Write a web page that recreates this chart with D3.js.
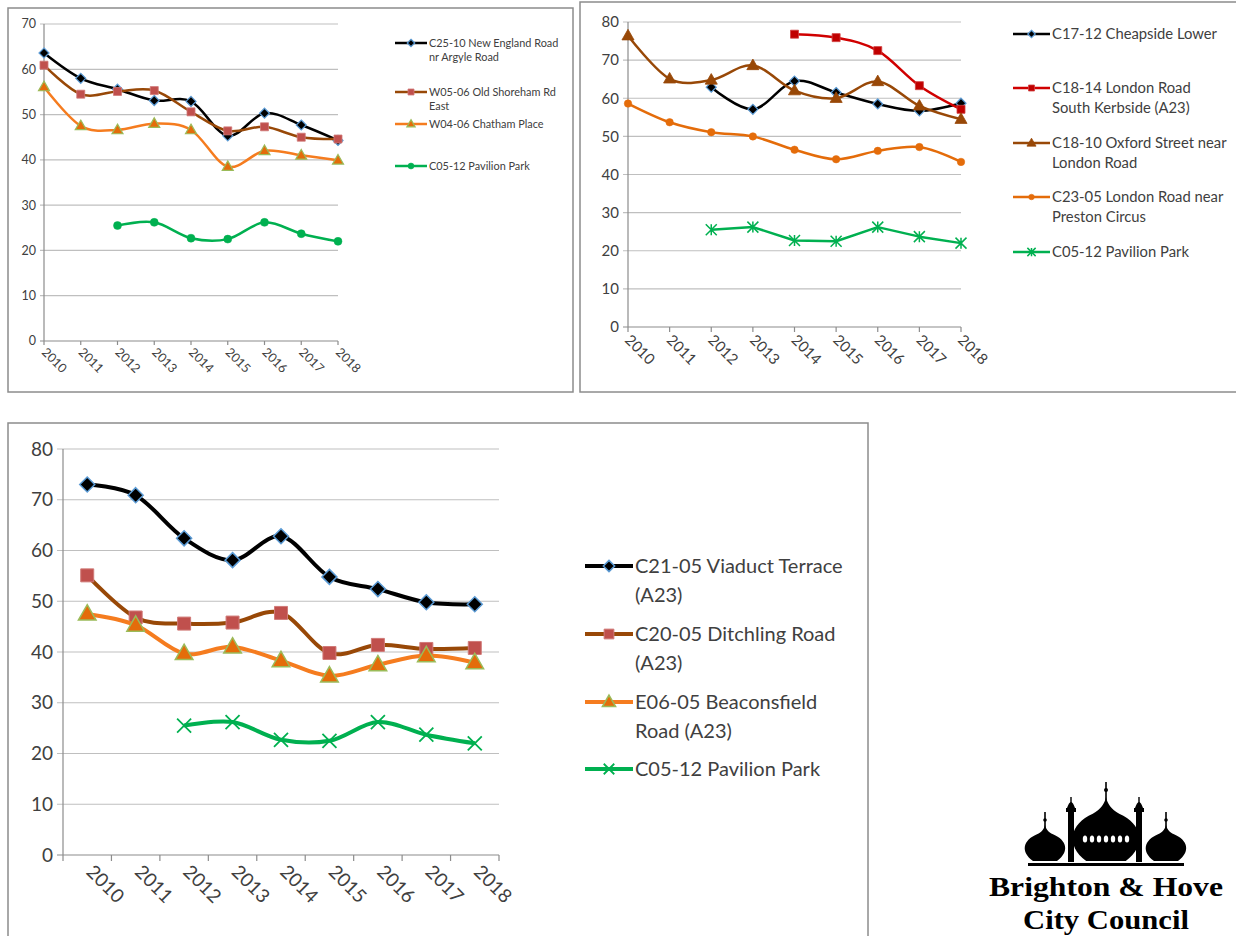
<!DOCTYPE html>
<html>
<head>
<meta charset="utf-8">
<script src="https://cdn.jsdelivr.net/npm/d3@7"></script>
<style>
  body { margin:0; background:#fff; }
  text { font-family: Lato, "Open Sans", sans-serif; }
</style>
</head>
<body>
<svg id="Vis" width="1236" height="936"></svg>
<script>
// ---- data ----
var years = ["2010","2011","2012","2013","2014","2015","2016","2017","2018"];

var pavilionPark   = [null, null, 25.5, 26.2, 22.7, 22.5, 26.2, 23.7, 22.0];

var newEngland     = [63.6, 58.0, 55.6, 53.1, 52.9, 45.3, 50.3, 47.7, 44.3];
var oldShoreham    = [60.9, 54.5, 55.1, 55.3, 50.6, 46.4, 47.3, 45.0, 44.6];
var chathamPlace   = [56.1, 47.5, 46.6, 48.0, 46.6, 38.5, 42.0, 41.0, 39.9];

var cheapside      = [null, null, 62.9, 57.1, 64.5, 61.5, 58.5, 56.7, 58.7];
var londonSouth    = [null, null, null, null, 76.8, 75.9, 72.5, 63.3, 57.1];
var oxfordStreet   = [76.4, 65.1, 64.8, 68.6, 62.0, 60.0, 64.4, 58.0, 54.5];
var prestonCircus  = [58.6, 53.7, 51.1, 50.0, 46.5, 44.0, 46.2, 47.2, 43.3];

var viaduct        = [73.0, 70.9, 62.4, 58.1, 62.8, 54.8, 52.4, 49.8, 49.4];
var ditchling      = [55.1, 46.8, 45.6, 45.8, 47.7, 39.8, 41.4, 40.6, 40.8];
var beaconsfield   = [47.5, 45.3, 39.7, 41.0, 38.3, 35.3, 37.5, 39.3, 37.9];

var ticks70 = [0,10,20,30,40,50,60,70];
var ticks80 = [0,10,20,30,40,50,60,70,80];

var svg = d3.select("#Vis");

function drawMarker(g, type, s, fill, stroke, sw){
  var p;
  if(type=="diamond")  p = "M0,"+(-s/2)+"L"+(s/2)+",0L0,"+(s/2)+"L"+(-s/2)+",0Z";
  if(type=="square")   p = "M"+(-s/2)+","+(-s/2)+"h"+s+"v"+s+"h"+(-s)+"Z";
  if(type=="triangle") p = "M0,"+(-0.58*s)+"L"+(0.55*s)+","+(0.38*s)+"L"+(-0.55*s)+","+(0.38*s)+"Z";
  if(type=="x")        p = "M"+(-s/2)+","+(-s/2)+"L"+(s/2)+","+(s/2)+"M"+(s/2)+","+(-s/2)+"L"+(-s/2)+","+(s/2);
  if(type=="asterisk") p = "M"+(-s/2)+","+(-s/2)+"L"+(s/2)+","+(s/2)+"M"+(s/2)+","+(-s/2)+"L"+(-s/2)+","+(s/2)+"M0,"+(-s/2)+"L0,"+(s/2);
  if(type=="circle"){
    g.append("circle").attr("r", s/2).attr("fill", fill).attr("stroke", stroke).attr("stroke-width", sw);
    return;
  }
  var open = (type=="x" || type=="asterisk");
  g.append("path").attr("d", p)
   .attr("fill", open ? "none" : fill)
   .attr("stroke", stroke)
   .attr("stroke-width", sw);
}

function drawPanel(cfg){
  var g = svg.append("g");
  g.append("rect").attr("x", cfg.box[0]).attr("y", cfg.box[1])
   .attr("width", cfg.box[2]).attr("height", cfg.box[3])
   .attr("fill", "white").attr("stroke", "#8c8c8c").attr("stroke-width", 1.5);

  var y = d3.scaleLinear().domain([0, cfg.yMax]).range([cfg.bottom, cfg.top]);
  var x, xc, band = cfg.band;
  if(band){
    x = d3.scaleBand().domain(years).range([cfg.left, cfg.right]).padding(0);
    xc = function(d){ return x(d) + x.bandwidth()/2; };
  } else {
    x = d3.scalePoint().domain(years).range([cfg.left, cfg.right]).padding(0);
    xc = function(d){ return x(d); };
  }

  // gridlines + y labels
  g.selectAll(".grid").data(cfg.yTicks).enter().append("line")
   .attr("x1", cfg.left - cfg.tick).attr("x2", cfg.right)
   .attr("y1", function(d){ return y(d); }).attr("y2", function(d){ return y(d); })
   .attr("stroke", function(d){ return d==0 ? "#8c8c8c" : "#bfbfbf"; })
   .attr("stroke-width", 1.2);
  g.selectAll(".ylab").data(cfg.yTicks).enter().append("text")
   .attr("x", cfg.left - cfg.tick - 4).attr("y", function(d){ return y(d); })
   .attr("dy", "0.35em").attr("text-anchor", "end")
   .attr("font-size", cfg.fs).attr("fill", "#404040")
   .text(function(d){ return d; });

  // axis lines
  g.append("line").attr("x1", cfg.left).attr("x2", cfg.left)
   .attr("y1", cfg.top).attr("y2", cfg.bottom).attr("stroke", "#8c8c8c").attr("stroke-width", 1.2);
  var tickPos = band ? years.map(function(d){ return x(d); }).concat([cfg.right]) : years.map(xc);
  g.selectAll(".xt").data(tickPos).enter().append("line")
   .attr("x1", function(d){ return d; }).attr("x2", function(d){ return d; })
   .attr("y1", cfg.bottom).attr("y2", cfg.bottom + cfg.tick)
   .attr("stroke", "#8c8c8c").attr("stroke-width", 1.2);
  g.selectAll(".xlab").data(years).enter().append("text")
   .attr("transform", function(d){
      return "translate(" + (xc(d) + cfg.xlabDx) + "," + (cfg.bottom + cfg.xlabDy) + ") rotate(45)";
   })
   .attr("font-size", cfg.fs).attr("fill", "#404040")
   .text(function(d){ return d; });

  // series
  cfg.series.forEach(function(s){
    var pts = years.map(function(yr, i){ return {year: yr, v: s.values[i]}; })
                   .filter(function(d){ return d.v != null; });
    var line = d3.line()
      .x(function(d){ return xc(d.year); })
      .y(function(d){ return y(d.v); })
      .curve(s.smooth === false ? d3.curveLinear : d3.curveCardinal.tension(0));
    g.append("path").datum(pts).attr("d", line)
     .attr("fill", "none").attr("stroke", s.color).attr("stroke-width", cfg.lw)
     .attr("stroke-linejoin", "round");
    pts.forEach(function(d){
      var m = g.append("g").attr("transform", "translate(" + xc(d.year) + "," + y(d.v) + ")");
      drawMarker(m, s.marker, s.msize, s.mfill, s.mstroke, s.msw);
    });
  });

  // legend
  cfg.series.forEach(function(s, i){
    var ly = cfg.legY[i];
    g.append("line").attr("x1", cfg.legX).attr("x2", cfg.legX + cfg.legW)
     .attr("y1", ly).attr("y2", ly).attr("stroke", s.color).attr("stroke-width", cfg.lw);
    var m = g.append("g").attr("transform", "translate(" + (cfg.legX + cfg.legW/2) + "," + ly + ")");
    drawMarker(m, s.marker, s.msize*0.75, s.mfill, s.mstroke, s.msw);
    var t = g.append("text").attr("x", cfg.legX + cfg.legW + 2).attr("y", ly)
     .attr("font-size", cfg.legFs).attr("fill", "#404040");
    s.name.forEach(function(ln, k){
      t.append("tspan").attr("x", cfg.legX + cfg.legW + 2).attr("dy", k==0 ? "0.35em" : cfg.legLh).text(ln);
    });
  });
}

drawPanel({
  box: [8, 8, 565, 384], left: 44, right: 338, top: 24, bottom: 341, yMax: 70, yTicks: ticks70,
  tick: 4, fs: 12.5, xlabDx: -3, xlabDy: 12, lw: 2.5, band: false,
  legX: 395, legW: 32, legFs: 10.9, legLh: 14, legY: [43, 92, 124, 166],
  series: [
    {name: ["C25-10 New England Road", "nr Argyle Road"], values: newEngland, color: "#000000",
     marker: "diamond", msize: 10, mfill: "#000", mstroke: "#5b9bd5", msw: 1.2},
    {name: ["W05-06 Old Shoreham Rd", "East"], values: oldShoreham, color: "#984807",
     marker: "square", msize: 8, mfill: "#c0504d", mstroke: "#d07a78", msw: 0.8},
    {name: ["W04-06 Chatham Place"], values: chathamPlace, color: "#f57c1f",
     marker: "triangle", msize: 10, mfill: "#e46c0a", mstroke: "#9bbb59", msw: 1.2},
    {name: ["C05-12 Pavilion Park"], values: pavilionPark, color: "#00b050",
     marker: "circle", msize: 8, mfill: "#00b050", mstroke: "#00b050", msw: 0.5}
  ]
});

drawPanel({
  box: [580, 2, 660, 390], left: 628, right: 961, top: 22, bottom: 327, yMax: 80, yTicks: ticks80,
  tick: 5, fs: 15, xlabDx: -4, xlabDy: 14, lw: 2.5, band: false,
  legX: 1013, legW: 37, legFs: 14.8, legLh: 20, legY: [34, 88, 143, 197, 252],
  series: [
    {name: ["C17-12 Cheapside Lower"], values: cheapside, color: "#000000",
     marker: "diamond", msize: 10, mfill: "#000", mstroke: "#5b9bd5", msw: 1.2},
    {name: ["C18-14 London Road", "South Kerbside (A23)"], values: londonSouth, color: "#d00000",
     marker: "square", msize: 8, mfill: "#c00000", mstroke: "#d04040", msw: 0.8},
    {name: ["C18-10 Oxford Street near", "London Road"], values: oxfordStreet, color: "#984807",
     marker: "triangle", msize: 11, mfill: "#984807", mstroke: "#984807", msw: 0.8},
    {name: ["C23-05 London Road near", "Preston Circus"], values: prestonCircus, color: "#e46c0a",
     marker: "circle", msize: 7.5, mfill: "#e46c0a", mstroke: "#e46c0a", msw: 0.5},
    {name: ["C05-12 Pavilion Park"], values: pavilionPark, color: "#00b050", smooth: false,
     marker: "asterisk", msize: 11, mfill: "none", mstroke: "#00b050", msw: 1.5}
  ]
});

drawPanel({
  box: [8, 423, 860, 520], left: 63, right: 499, top: 449, bottom: 855, yMax: 80, yTicks: ticks80,
  tick: 6, fs: 19, xlabDx: -2, xlabDy: 18, lw: 4, band: true,
  legX: 585, legW: 48, legFs: 20, legLh: 29, legY: [566, 634, 702, 769],
  series: [
    {name: ["C21-05 Viaduct Terrace", "(A23)"], values: viaduct, color: "#000000",
     marker: "diamond", msize: 15, mfill: "#000", mstroke: "#5b9bd5", msw: 1.5},
    {name: ["C20-05 Ditchling Road", "(A23)"], values: ditchling, color: "#984807",
     marker: "square", msize: 13, mfill: "#c0504d", mstroke: "#d07a78", msw: 1},
    {name: ["E06-05 Beaconsfield", "Road (A23)"], values: beaconsfield, color: "#f57c1f",
     marker: "triangle", msize: 16, mfill: "#e46c0a", mstroke: "#9bbb59", msw: 1.5},
    {name: ["C05-12 Pavilion Park"], values: pavilionPark, color: "#00b050",
     marker: "x", msize: 14, mfill: "none", mstroke: "#00b050", msw: 1.8}
  ]
});

// ---- logo ----
var logo = svg.append("g").attr("fill", "#000");
function onion(cx, base, w, h){
  return "M" + (cx - w*0.3) + "," + base +
    " C" + (cx - w*0.62) + "," + (base - h*0.25) + " " + (cx - w*0.55) + "," + (base - h*0.58) + " " + (cx - w*0.2) + "," + (base - h*0.74) +
    " C" + (cx - w*0.08) + "," + (base - h*0.8) + " " + (cx - w*0.02) + "," + (base - h*0.9) + " " + cx + "," + (base - h) +
    " C" + (cx + w*0.02) + "," + (base - h*0.9) + " " + (cx + w*0.08) + "," + (base - h*0.8) + " " + (cx + w*0.2) + "," + (base - h*0.74) +
    " C" + (cx + w*0.55) + "," + (base - h*0.58) + " " + (cx + w*0.62) + "," + (base - h*0.25) + " " + (cx + w*0.3) + "," + base + "Z";
}
// base bar
logo.append("rect").attr("x", 1028).attr("y", 863).attr("width", 156).attr("height", 3);
// side domes
[1045, 1166].forEach(function(cx){
  logo.append("path").attr("d", onion(cx, 861, 40, 36));
  logo.append("rect").attr("x", cx - 0.8).attr("y", 812).attr("width", 1.6).attr("height", 16);
  logo.append("circle").attr("cx", cx).attr("cy", 820).attr("r", 1.8);
});
// minarets
[1071, 1139].forEach(function(cx){
  logo.append("rect").attr("x", cx - 3).attr("y", 812).attr("width", 6).attr("height", 50);
  logo.append("rect").attr("x", cx - 5).attr("y", 808).attr("width", 10).attr("height", 4);
  logo.append("path").attr("d", "M" + (cx - 4) + ",808 Q" + cx + ",796 " + (cx + 4) + ",808Z");
  logo.append("rect").attr("x", cx - 0.7).attr("y", 797).attr("width", 1.4).attr("height", 6);
});
// central dome
logo.append("path").attr("d", onion(1106, 861, 66, 64));
logo.append("rect").attr("x", 1105.2).attr("y", 782).attr("width", 1.6).attr("height", 18);
logo.append("circle").attr("cx", 1106).attr("cy", 790).attr("r", 2);
[-21, -14, -7, 0, 7, 14, 21].forEach(function(dx){
  logo.append("ellipse").attr("cx", 1106 + dx).attr("cy", 839).attr("rx", 2.2).attr("ry", 3.6).attr("fill", "#fff");
});
logo.append("text").attr("x", 1106).attr("y", 896).attr("text-anchor", "middle")
  .attr("font-weight", "bold").attr("font-size", 27).attr("textLength", 234).attr("lengthAdjust", "spacingAndGlyphs")
  .style("font-family", "'Liberation Serif', serif").text("Brighton & Hove");
logo.append("text").attr("x", 1106).attr("y", 929).attr("text-anchor", "middle")
  .attr("font-weight", "bold").attr("font-size", 27).attr("textLength", 166).attr("lengthAdjust", "spacingAndGlyphs")
  .style("font-family", "'Liberation Serif', serif").text("City Council");
</script>
</body>
</html>
